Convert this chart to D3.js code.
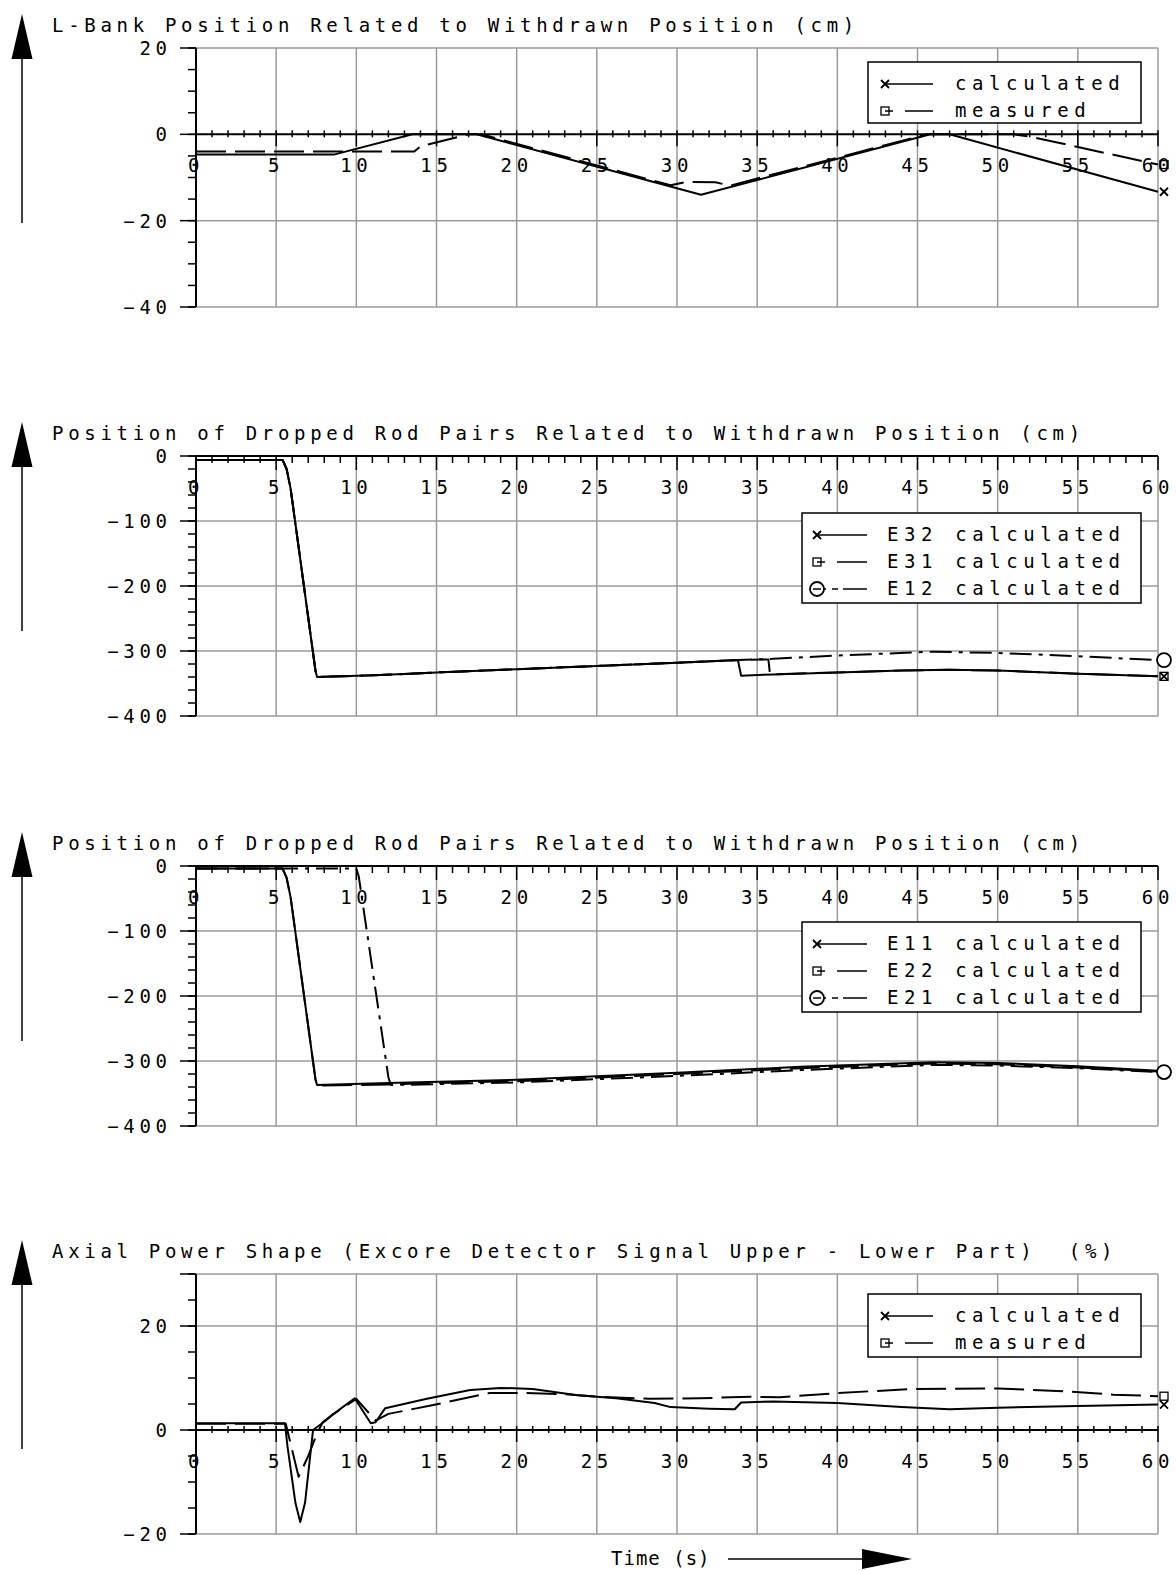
<!DOCTYPE html>
<html lang="en">
<head>
<meta charset="utf-8">
<title>Rod drop transient</title>
<script src="https://cdn.jsdelivr.net/npm/d3@7"></script>
<style>
    body { margin: 0; background: #fff; }
    svg text {
        font-family: "DejaVu Sans Mono", monospace;
        font-size: 19px;
        letter-spacing: 4.7px;
        fill: #000;
        white-space: pre;
    }
</style>
</head>
<body>
<script>

    // shared time axis (s)
    var time_ticks = d3.range(0, 61, 5);
    var time_minor = d3.range(0, 61, 1);

    // panel 1 : L-bank position (cm)
    var lbank_calc = [[0, -4.7], [8.6, -4.7], [13.5, 0], [17.5, 0], [31.5, -14], [45.8, 0], [47, 0], [60, -13.3]];
    var lbank_meas = [[0, -4], [13.6, -4], [14, -2.8], [17, 0], [17.8, 0], [29.6, -11.8], [30.6, -11], [32.4, -11.1],
        [33.3, -11.9], [45.6, 0], [51, 0], [52, -0.5], [60, -7]];

    // panel 2 : E32 / E31 / E12 (cm)
    var e32_calc = [[0, -6], [5.4, -6], [5.65, -20], [5.9, -50], [7.45, -330], [7.55, -340], [11.5, -337], [15, -333],
        [20, -328], [25, -323], [30, -318], [33.8, -314], [34, -338], [36, -336], [40, -333], [44, -330], [47, -329],
        [50, -330], [55, -335], [60, -339]];
    var e31_calc = [[0, -6], [5.4, -6], [5.65, -20], [5.9, -50], [7.45, -330], [7.55, -340], [11.5, -337], [15, -333],
        [20, -328], [25, -323], [30, -318], [33.8, -314], [35.7, -313], [35.8, -336], [40, -333], [44, -330], [47, -329],
        [50, -330], [55, -335], [60, -339]];
    var e12_calc = [[0, -6], [5.4, -6], [5.65, -20], [5.9, -50], [7.45, -330], [7.55, -340], [11.5, -337], [15, -333],
        [20, -328], [25, -323], [30, -318], [33.8, -314], [36, -312], [40, -307], [46, -301], [50, -303], [55, -308],
        [60, -314]];

    // panel 3 : E11 / E22 / E21 (cm)
    var e11_calc = [[0, -4], [5.4, -4], [5.65, -18], [5.9, -48], [7.45, -328], [7.55, -337], [12, -334], [20, -329],
        [30, -318], [37.7, -309], [46, -302], [50, -303], [55, -308], [60, -315]];
    var e22_calc = [[0, -4], [5.4, -4], [5.65, -18], [5.9, -48], [7.45, -328], [7.55, -338], [12, -336], [20, -331],
        [30, -320], [37.7, -311], [46, -304], [50, -305], [55, -310], [60, -316]];
    var e21_calc = [[0, -4], [10, -4], [10.15, -16], [12, -325], [12.15, -337], [20, -333], [30, -323], [37.7, -314],
        [46, -306], [50, -307], [55, -311], [60, -317]];

    // panel 4 : axial power shape (%)
    var aps_calc = [[0, 1.3], [5.55, 1.3], [5.7, -3], [6.2, -14], [6.5, -17.7], [6.8, -14], [7.3, 0], [8, 1.6],
        [8.5, 2.9], [9.9, 6.1], [10.9, 1.3], [11.2, 1.5], [11.8, 4.2], [14.4, 6], [17.1, 7.7], [19, 8.1], [21, 7.9],
        [23.8, 6.7], [26.2, 6.1], [28.6, 5.2], [29.6, 4.4], [32, 4.1], [33.6, 4], [34, 5.3], [36, 5.5], [40, 5.2],
        [44, 4.4], [47, 4], [50, 4.3], [55, 4.6], [60, 4.9]];
    var aps_meas = [[0, 1.2], [5.6, 1.2], [6.4, -9], [7, -5], [7.5, -1], [7.9, 1.5], [8.5, 2.9], [10, 6], [11.2, 1.8],
        [12, 3.1], [14.8, 4.8], [18.3, 7.1], [20.6, 7.1], [23, 6.9], [25.2, 6.4], [28.3, 6], [31.4, 6.1], [34.6, 6.4],
        [36.4, 6.3], [40, 7.1], [44.7, 7.9], [50, 8], [54.5, 7.4], [57.2, 6.8], [60, 6.5]];

    var titles = [
        "L-Bank Position Related to Withdrawn Position (cm)",
        "Position of Dropped Rod Pairs Related to Withdrawn Position (cm)",
        "Position of Dropped Rod Pairs Related to Withdrawn Position (cm)",
        "Axial Power Shape (Excore Detector Signal Upper - Lower Part)  (%)"
    ];

    //Width and height
    var w = 1176;
    var h = 1571;

    var grid_color = "#9b9b9b";
    var ls = 4.7;

    var dashes = {
        solid: null,
        dashed: "30,9",
        dashdot: "22,7,4,7"
    };

    var xScale = d3.scaleLinear()
        .domain([0, 60])
        .range([196, 1158]);

    var panels = [
        {
            title: titles[0], top: 48, bottom: 307, domain: [-40, 20],
            major: [20, 0, -20, -40], labels: [20, 0, -20, -40], minor: 5, grid: [20, -20, -40],
            ticks_inside: false,
            legend: { x: 868, y: 62, w: 273, h: 61, mx: 885, lx: 933, tx: 955 },
            series: [
                { name: "calculated", data: lbank_calc, dash: "solid", marker: "cross" },
                { name: "measured", data: lbank_meas, dash: "dashed", marker: "square" }
            ]
        },
        {
            title: titles[1], top: 456, bottom: 716, domain: [-400, 0],
            major: [0, -100, -200, -300, -400], labels: [0, -100, -200, -300, -400], minor: 20,
            grid: [-100, -200, -300, -400],
            ticks_inside: true,
            legend: { x: 802, y: 513, w: 339, h: 90, mx: 817, lx: 867, tx: 887 },
            series: [
                { name: "E32 calculated", data: e32_calc, dash: "solid", marker: "cross" },
                { name: "E31 calculated", data: e31_calc, dash: "dashed", marker: "square" },
                { name: "E12 calculated", data: e12_calc, dash: "dashdot", marker: "circle" }
            ]
        },
        {
            title: titles[2], top: 866, bottom: 1126, domain: [-400, 0],
            major: [0, -100, -200, -300, -400], labels: [0, -100, -200, -300, -400], minor: 20,
            grid: [-100, -200, -300, -400],
            ticks_inside: true,
            legend: { x: 802, y: 922, w: 339, h: 90, mx: 817, lx: 867, tx: 887 },
            series: [
                { name: "E11 calculated", data: e11_calc, dash: "solid", marker: "cross" },
                { name: "E22 calculated", data: e22_calc, dash: "dashed", marker: "square" },
                { name: "E21 calculated", data: e21_calc, dash: "dashdot", marker: "circle" }
            ]
        },
        {
            title: titles[3], top: 1274, bottom: 1534, domain: [-20, 30],
            major: [30, 20, 0, -20], labels: [20, 0, -20], minor: 5, grid: [30, 20, -20],
            ticks_inside: false,
            legend: { x: 868, y: 1294, w: 273, h: 63, mx: 885, lx: 933, tx: 955 },
            series: [
                { name: "calculated", data: aps_calc, dash: "solid", marker: "cross" },
                { name: "measured", data: aps_meas, dash: "dashed", marker: "square" }
            ]
        }
    ];

    //Create SVG element
    var svg = d3.select("body")
        .append("svg")
        .attr("width", w)
        .attr("height", h);

    svg.append("rect").attr("width", w).attr("height", h).attr("fill", "#fff");

    function draw_marker(g, type, cx, cy) {
        if (type === "cross") {
            g.append("path")
                .attr("d", "M" + (cx - 4) + "," + (cy - 4) + "L" + (cx + 4) + "," + (cy + 4) +
                    "M" + (cx - 4) + "," + (cy + 4) + "L" + (cx + 4) + "," + (cy - 4))
                .attr("stroke", "#000").attr("stroke-width", 1.8).attr("fill", "none");
        } else if (type === "square") {
            g.append("rect")
                .attr("x", cx - 4).attr("y", cy - 4).attr("width", 8).attr("height", 8)
                .attr("stroke", "#000").attr("stroke-width", 1.3).attr("fill", "none");
        } else if (type === "circle") {
            g.append("circle")
                .attr("cx", cx).attr("cy", cy).attr("r", 7)
                .attr("stroke", "#000").attr("stroke-width", 1.8).attr("fill", "#fff");
        }
    }

    function up_arrow(g, x, tip, base, end) {
        g.append("path")
            .attr("d", "M" + x + "," + tip + "L" + (x - 10.5) + "," + base + "L" + (x + 10.5) + "," + base + "Z")
            .attr("fill", "#000");
        g.append("line")
            .attr("x1", x).attr("x2", x).attr("y1", base).attr("y2", end)
            .attr("stroke", "#000").attr("stroke-width", 1.5);
    }

    function draw_panel(p) {
        var g = svg.append("g");

        var yScale = d3.scaleLinear()
            .domain(p.domain)
            .range([p.bottom, p.top]);

        var zero_y = yScale(0);
        var title_y = p.top - 16;

        // title + up arrow
        g.append("text")
            .attr("x", 52)
            .attr("y", title_y)
            .text(p.title);
        up_arrow(g, 22, title_y - 18, title_y + 27, title_y + 191);

        // grid
        g.selectAll("line.vgrid")
            .data(time_ticks.filter(function(d) { return d > 0; }))
            .enter()
            .append("line")
            .attr("class", "vgrid")
            .attr("x1", function(d) { return xScale(d); })
            .attr("x2", function(d) { return xScale(d); })
            .attr("y1", p.top)
            .attr("y2", p.bottom)
            .attr("stroke", grid_color)
            .attr("stroke-width", 1.5);

        g.selectAll("line.hgrid")
            .data(p.grid)
            .enter()
            .append("line")
            .attr("class", "hgrid")
            .attr("x1", xScale(0))
            .attr("x2", xScale(60))
            .attr("y1", function(d) { return yScale(d); })
            .attr("y2", function(d) { return yScale(d); })
            .attr("stroke", grid_color)
            .attr("stroke-width", 1.5);

        // y axis
        var minor_vals = d3.range(p.domain[0], p.domain[1] + 0.001, p.minor);
        g.append("line")
            .attr("x1", xScale(0)).attr("x2", xScale(0))
            .attr("y1", p.top).attr("y2", p.bottom)
            .attr("stroke", "#000").attr("stroke-width", 2);
        g.selectAll("line.yminor")
            .data(minor_vals)
            .enter()
            .append("line")
            .attr("x1", xScale(0) - 8)
            .attr("x2", xScale(0))
            .attr("y1", function(d) { return yScale(d); })
            .attr("y2", function(d) { return yScale(d); })
            .attr("stroke", "#000").attr("stroke-width", 1.5);
        g.selectAll("line.ymajor")
            .data(p.major)
            .enter()
            .append("line")
            .attr("x1", xScale(0) - 16)
            .attr("x2", xScale(0))
            .attr("y1", function(d) { return yScale(d); })
            .attr("y2", function(d) { return yScale(d); })
            .attr("stroke", "#000").attr("stroke-width", 1.5);
        g.selectAll("text.ylab")
            .data(p.labels)
            .enter()
            .append("text")
            .attr("x", 167 + ls)
            .attr("y", function(d) { return yScale(d); })
            .attr("dy", "0.36em")
            .attr("text-anchor", "end")
            .text(function(d) { return d < 0 ? "\u2212" + Math.abs(d) : d; });

        // time axis on the zero line
        g.append("line")
            .attr("x1", xScale(0)).attr("x2", xScale(60))
            .attr("y1", zero_y).attr("y2", zero_y)
            .attr("stroke", "#000").attr("stroke-width", 2);
        var minor_y = p.ticks_inside ? [zero_y, zero_y + 7] : [zero_y - 4, zero_y + 3];
        var major_y = p.ticks_inside ? [zero_y, zero_y + 14] : [zero_y - 4, zero_y + 12];
        g.selectAll("line.xminor")
            .data(time_minor)
            .enter()
            .append("line")
            .attr("x1", function(d) { return xScale(d); })
            .attr("x2", function(d) { return xScale(d); })
            .attr("y1", function(d) { return d % 5 === 0 ? major_y[0] : minor_y[0]; })
            .attr("y2", function(d) { return d % 5 === 0 ? major_y[1] : minor_y[1]; })
            .attr("stroke", "#000").attr("stroke-width", 1.5);
        g.selectAll("text.xlab")
            .data(time_ticks)
            .enter()
            .append("text")
            .attr("x", function(d) { return xScale(d); })
            .attr("y", zero_y + 38)
            .attr("text-anchor", "middle")
            .text(function(d) { return d; });

        // curves
        var line = d3.line()
            .x(function(d) { return xScale(d[0]); })
            .y(function(d) { return yScale(d[1]); });

        p.series.forEach(function(s) {
            g.append("path")
                .datum(s.data)
                .attr("d", line)
                .attr("fill", "none")
                .attr("stroke", "#000")
                .attr("stroke-width", 2)
                .attr("stroke-linejoin", "round")
                .attr("stroke-dasharray", dashes[s.dash]);
        });
        p.series.forEach(function(s) {
            var last = s.data[s.data.length - 1];
            draw_marker(g, s.marker, xScale(last[0]) + 6, yScale(last[1]));
        });

        // legend
        var L = p.legend;
        var lg = g.append("g");
        lg.append("rect")
            .attr("x", L.x).attr("y", L.y).attr("width", L.w).attr("height", L.h)
            .attr("fill", "#fff").attr("stroke", "#000").attr("stroke-width", 1.5);
        p.series.forEach(function(s, i) {
            var base = L.y + 28 + i * 27;
            var my = base - 6;
            lg.append("line")
                .attr("x1", L.mx).attr("x2", L.lx)
                .attr("y1", my).attr("y2", my)
                .attr("stroke", "#000").attr("stroke-width", 1.3)
                .attr("stroke-dasharray", s.dash === "solid" ? null : (s.dash === "dashed" ? "8,12,30" : "9,6,6,5,30"));
            draw_marker(lg, s.marker, L.mx, my);
            if (s.marker === "circle") {
                lg.append("line")
                    .attr("x1", L.mx - 4).attr("x2", L.mx + 4).attr("y1", my).attr("y2", my)
                    .attr("stroke", "#000").attr("stroke-width", 1.5);
            }
            lg.append("text")
                .attr("x", L.tx)
                .attr("y", base)
                .style("letter-spacing", "5.6px")
                .text(s.name);
        });
    }

    panels.forEach(draw_panel);

    // time label and arrow at the bottom
    svg.append("text")
        .attr("x", 611)
        .attr("y", 1565)
        .style("letter-spacing", "1px")
        .text("Time (s)");
    svg.append("line")
        .attr("x1", 728).attr("x2", 864)
        .attr("y1", 1559).attr("y2", 1559)
        .attr("stroke", "#000").attr("stroke-width", 1.5);
    svg.append("path")
        .attr("d", "M862,1549L912,1559L862,1569Z")
        .attr("fill", "#000");

</script>
</body>
</html>
